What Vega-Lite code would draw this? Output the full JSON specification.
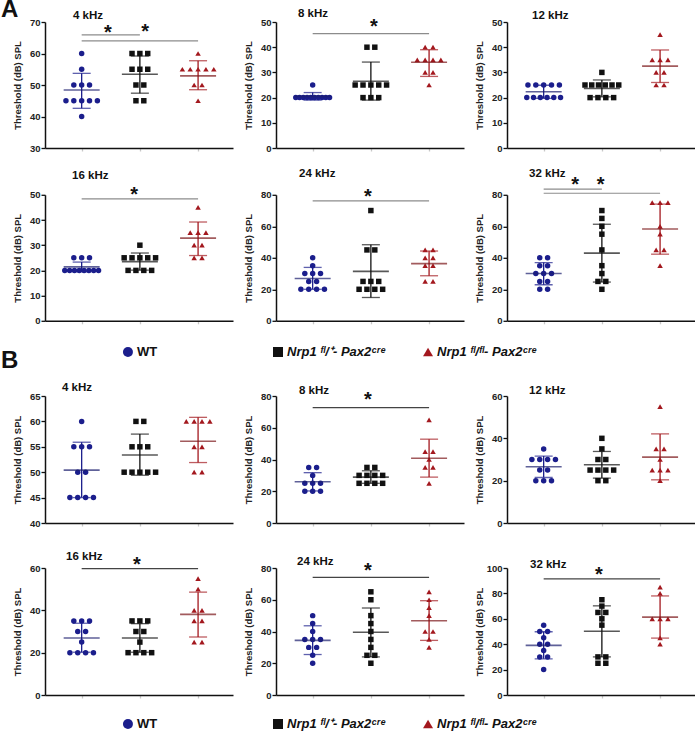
{
"$schema":"https://vega.github.io/schema/vega-lite/v6.json",
"background":"white",
"padding":{"left":1,"top":-2,"right":0,"bottom":0},
"config":{
 "font":"Liberation Sans",
 "view":{"stroke":null},
 "axis":{"grid":false,"domainColor":"#111","domainWidth":1.5,"tickColor":"#111","tickWidth":1.3,"labelFontWeight":"bold","labelFontSize":9.5,"labelColor":"#222","titleFontWeight":"bold","titleFontSize":9.5,"titleColor":"#222"},
 "axisY":{"minExtent":22,"maxExtent":22,"titlePadding":1,"tickSize":4,"labelPadding":1},
 "axisX":{"labels":false,"tickSize":3,"tickColor":"#c8c8c8","domainColor":"#111"},
 "title":{"fontSize":24,"fontWeight":"bold","color":"#111","anchor":"start","frame":"bounds","offset":0,"baseline":"alphabetic"}
},
"data":{"values":[
{"p":"A4","k":"t","lab":"4 kHz"},{"p":"A8","k":"t","lab":"8 kHz"},{"p":"A12","k":"t","lab":"12 kHz"},{"p":"A16","k":"t","lab":"16 kHz"},{"p":"A24","k":"t","lab":"24 kHz"},{"p":"A32","k":"t","lab":"32 kHz"},
{"p":"B4","k":"t","lab":"4 kHz"},{"p":"B8","k":"t","lab":"8 kHz"},{"p":"B12","k":"t","lab":"12 kHz"},{"p":"B16","k":"t","lab":"16 kHz"},{"p":"B24","k":"t","lab":"24 kHz"},{"p":"B32","k":"t","lab":"32 kHz"},
{"k":"lg","g":"WT","lab":"WT"},{"k":"lg","g":"Het","lab":"Nrp1 ᶠˡ/⁺- Pax2ᶜʳᵉ"},{"k":"lg","g":"KO","lab":"Nrp1 ᶠˡ/ᶠˡ- Pax2ᶜʳᵉ"},
{"p":"A4","k":"pt","g":"WT","y":60},{"p":"A4","k":"pt","g":"WT","y":55},{"p":"A4","k":"pt","g":"WT","y":50},{"p":"A4","k":"pt","g":"WT","y":50},{"p":"A4","k":"pt","g":"WT","y":50},{"p":"A4","k":"pt","g":"WT","y":45},{"p":"A4","k":"pt","g":"WT","y":45},{"p":"A4","k":"pt","g":"WT","y":45},{"p":"A4","k":"pt","g":"WT","y":45},{"p":"A4","k":"pt","g":"WT","y":45},{"p":"A4","k":"pt","g":"WT","y":40},
{"p":"A4","k":"pt","g":"Het","y":60},{"p":"A4","k":"pt","g":"Het","y":60},{"p":"A4","k":"pt","g":"Het","y":60},{"p":"A4","k":"pt","g":"Het","y":55},{"p":"A4","k":"pt","g":"Het","y":55},{"p":"A4","k":"pt","g":"Het","y":55},{"p":"A4","k":"pt","g":"Het","y":50},{"p":"A4","k":"pt","g":"Het","y":50},{"p":"A4","k":"pt","g":"Het","y":45},{"p":"A4","k":"pt","g":"Het","y":45},
{"p":"A4","k":"pt","g":"KO","y":60},{"p":"A4","k":"pt","g":"KO","y":55},{"p":"A4","k":"pt","g":"KO","y":55},{"p":"A4","k":"pt","g":"KO","y":55},{"p":"A4","k":"pt","g":"KO","y":55},{"p":"A4","k":"pt","g":"KO","y":55},{"p":"A4","k":"pt","g":"KO","y":50},{"p":"A4","k":"pt","g":"KO","y":50},{"p":"A4","k":"pt","g":"KO","y":45},
{"p":"A8","k":"pt","g":"WT","y":25},{"p":"A8","k":"pt","g":"WT","y":20},{"p":"A8","k":"pt","g":"WT","y":20},{"p":"A8","k":"pt","g":"WT","y":20},{"p":"A8","k":"pt","g":"WT","y":20},{"p":"A8","k":"pt","g":"WT","y":20},{"p":"A8","k":"pt","g":"WT","y":20},{"p":"A8","k":"pt","g":"WT","y":20},{"p":"A8","k":"pt","g":"WT","y":20},{"p":"A8","k":"pt","g":"WT","y":20},{"p":"A8","k":"pt","g":"WT","y":20},
{"p":"A8","k":"pt","g":"Het","y":40},{"p":"A8","k":"pt","g":"Het","y":40},{"p":"A8","k":"pt","g":"Het","y":25},{"p":"A8","k":"pt","g":"Het","y":25},{"p":"A8","k":"pt","g":"Het","y":25},{"p":"A8","k":"pt","g":"Het","y":25},{"p":"A8","k":"pt","g":"Het","y":25},{"p":"A8","k":"pt","g":"Het","y":20},{"p":"A8","k":"pt","g":"Het","y":20},{"p":"A8","k":"pt","g":"Het","y":20},
{"p":"A8","k":"pt","g":"KO","y":40},{"p":"A8","k":"pt","g":"KO","y":40},{"p":"A8","k":"pt","g":"KO","y":35},{"p":"A8","k":"pt","g":"KO","y":35},{"p":"A8","k":"pt","g":"KO","y":35},{"p":"A8","k":"pt","g":"KO","y":35},{"p":"A8","k":"pt","g":"KO","y":30},{"p":"A8","k":"pt","g":"KO","y":30},{"p":"A8","k":"pt","g":"KO","y":25},
{"p":"A12","k":"pt","g":"WT","y":25},{"p":"A12","k":"pt","g":"WT","y":25},{"p":"A12","k":"pt","g":"WT","y":25},{"p":"A12","k":"pt","g":"WT","y":25},{"p":"A12","k":"pt","g":"WT","y":25},{"p":"A12","k":"pt","g":"WT","y":20},{"p":"A12","k":"pt","g":"WT","y":20},{"p":"A12","k":"pt","g":"WT","y":20},{"p":"A12","k":"pt","g":"WT","y":20},{"p":"A12","k":"pt","g":"WT","y":20},{"p":"A12","k":"pt","g":"WT","y":20},
{"p":"A12","k":"pt","g":"Het","y":30},{"p":"A12","k":"pt","g":"Het","y":25},{"p":"A12","k":"pt","g":"Het","y":25},{"p":"A12","k":"pt","g":"Het","y":25},{"p":"A12","k":"pt","g":"Het","y":25},{"p":"A12","k":"pt","g":"Het","y":25},{"p":"A12","k":"pt","g":"Het","y":25},{"p":"A12","k":"pt","g":"Het","y":20},{"p":"A12","k":"pt","g":"Het","y":20},{"p":"A12","k":"pt","g":"Het","y":20},{"p":"A12","k":"pt","g":"Het","y":20},
{"p":"A12","k":"pt","g":"KO","y":45},{"p":"A12","k":"pt","g":"KO","y":35},{"p":"A12","k":"pt","g":"KO","y":35},{"p":"A12","k":"pt","g":"KO","y":35},{"p":"A12","k":"pt","g":"KO","y":30},{"p":"A12","k":"pt","g":"KO","y":30},{"p":"A12","k":"pt","g":"KO","y":25},{"p":"A12","k":"pt","g":"KO","y":25},
{"p":"A16","k":"pt","g":"WT","y":25},{"p":"A16","k":"pt","g":"WT","y":25},{"p":"A16","k":"pt","g":"WT","y":25},{"p":"A16","k":"pt","g":"WT","y":20},{"p":"A16","k":"pt","g":"WT","y":20},{"p":"A16","k":"pt","g":"WT","y":20},{"p":"A16","k":"pt","g":"WT","y":20},{"p":"A16","k":"pt","g":"WT","y":20},{"p":"A16","k":"pt","g":"WT","y":20},{"p":"A16","k":"pt","g":"WT","y":20},{"p":"A16","k":"pt","g":"WT","y":20},
{"p":"A16","k":"pt","g":"Het","y":30},{"p":"A16","k":"pt","g":"Het","y":25},{"p":"A16","k":"pt","g":"Het","y":25},{"p":"A16","k":"pt","g":"Het","y":25},{"p":"A16","k":"pt","g":"Het","y":25},{"p":"A16","k":"pt","g":"Het","y":25},{"p":"A16","k":"pt","g":"Het","y":20},{"p":"A16","k":"pt","g":"Het","y":20},{"p":"A16","k":"pt","g":"Het","y":20},{"p":"A16","k":"pt","g":"Het","y":20},
{"p":"A16","k":"pt","g":"KO","y":45},{"p":"A16","k":"pt","g":"KO","y":35},{"p":"A16","k":"pt","g":"KO","y":35},{"p":"A16","k":"pt","g":"KO","y":35},{"p":"A16","k":"pt","g":"KO","y":30},{"p":"A16","k":"pt","g":"KO","y":30},{"p":"A16","k":"pt","g":"KO","y":25},{"p":"A16","k":"pt","g":"KO","y":25},
{"p":"A24","k":"pt","g":"WT","y":40},{"p":"A24","k":"pt","g":"WT","y":35},{"p":"A24","k":"pt","g":"WT","y":30},{"p":"A24","k":"pt","g":"WT","y":30},{"p":"A24","k":"pt","g":"WT","y":30},{"p":"A24","k":"pt","g":"WT","y":25},{"p":"A24","k":"pt","g":"WT","y":25},{"p":"A24","k":"pt","g":"WT","y":20},{"p":"A24","k":"pt","g":"WT","y":20},{"p":"A24","k":"pt","g":"WT","y":20},{"p":"A24","k":"pt","g":"WT","y":20},
{"p":"A24","k":"pt","g":"Het","y":70},{"p":"A24","k":"pt","g":"Het","y":45},{"p":"A24","k":"pt","g":"Het","y":45},{"p":"A24","k":"pt","g":"Het","y":25},{"p":"A24","k":"pt","g":"Het","y":25},{"p":"A24","k":"pt","g":"Het","y":25},{"p":"A24","k":"pt","g":"Het","y":20},{"p":"A24","k":"pt","g":"Het","y":20},{"p":"A24","k":"pt","g":"Het","y":20},{"p":"A24","k":"pt","g":"Het","y":20},
{"p":"A24","k":"pt","g":"KO","y":45},{"p":"A24","k":"pt","g":"KO","y":45},{"p":"A24","k":"pt","g":"KO","y":40},{"p":"A24","k":"pt","g":"KO","y":40},{"p":"A24","k":"pt","g":"KO","y":35},{"p":"A24","k":"pt","g":"KO","y":35},{"p":"A24","k":"pt","g":"KO","y":25},{"p":"A24","k":"pt","g":"KO","y":25},
{"p":"A32","k":"pt","g":"WT","y":40},{"p":"A32","k":"pt","g":"WT","y":40},{"p":"A32","k":"pt","g":"WT","y":35},{"p":"A32","k":"pt","g":"WT","y":35},{"p":"A32","k":"pt","g":"WT","y":30},{"p":"A32","k":"pt","g":"WT","y":30},{"p":"A32","k":"pt","g":"WT","y":30},{"p":"A32","k":"pt","g":"WT","y":25},{"p":"A32","k":"pt","g":"WT","y":25},{"p":"A32","k":"pt","g":"WT","y":20},{"p":"A32","k":"pt","g":"WT","y":20},
{"p":"A32","k":"pt","g":"Het","y":70},{"p":"A32","k":"pt","g":"Het","y":65},{"p":"A32","k":"pt","g":"Het","y":60},{"p":"A32","k":"pt","g":"Het","y":55},{"p":"A32","k":"pt","g":"Het","y":45},{"p":"A32","k":"pt","g":"Het","y":35},{"p":"A32","k":"pt","g":"Het","y":30},{"p":"A32","k":"pt","g":"Het","y":25},{"p":"A32","k":"pt","g":"Het","y":25},{"p":"A32","k":"pt","g":"Het","y":20},
{"p":"A32","k":"pt","g":"KO","y":75},{"p":"A32","k":"pt","g":"KO","y":75},{"p":"A32","k":"pt","g":"KO","y":75},{"p":"A32","k":"pt","g":"KO","y":60},{"p":"A32","k":"pt","g":"KO","y":55},{"p":"A32","k":"pt","g":"KO","y":45},{"p":"A32","k":"pt","g":"KO","y":45},{"p":"A32","k":"pt","g":"KO","y":35},
{"p":"B4","k":"pt","g":"WT","y":60},{"p":"B4","k":"pt","g":"WT","y":55},{"p":"B4","k":"pt","g":"WT","y":55},{"p":"B4","k":"pt","g":"WT","y":55},{"p":"B4","k":"pt","g":"WT","y":50},{"p":"B4","k":"pt","g":"WT","y":50},{"p":"B4","k":"pt","g":"WT","y":45},{"p":"B4","k":"pt","g":"WT","y":45},{"p":"B4","k":"pt","g":"WT","y":45},{"p":"B4","k":"pt","g":"WT","y":45},
{"p":"B4","k":"pt","g":"Het","y":60},{"p":"B4","k":"pt","g":"Het","y":60},{"p":"B4","k":"pt","g":"Het","y":55},{"p":"B4","k":"pt","g":"Het","y":55},{"p":"B4","k":"pt","g":"Het","y":55},{"p":"B4","k":"pt","g":"Het","y":50},{"p":"B4","k":"pt","g":"Het","y":50},{"p":"B4","k":"pt","g":"Het","y":50},{"p":"B4","k":"pt","g":"Het","y":50},{"p":"B4","k":"pt","g":"Het","y":50},
{"p":"B4","k":"pt","g":"KO","y":60},{"p":"B4","k":"pt","g":"KO","y":60},{"p":"B4","k":"pt","g":"KO","y":60},{"p":"B4","k":"pt","g":"KO","y":60},{"p":"B4","k":"pt","g":"KO","y":55},{"p":"B4","k":"pt","g":"KO","y":55},{"p":"B4","k":"pt","g":"KO","y":50},{"p":"B4","k":"pt","g":"KO","y":50},
{"p":"B8","k":"pt","g":"WT","y":35},{"p":"B8","k":"pt","g":"WT","y":35},{"p":"B8","k":"pt","g":"WT","y":30},{"p":"B8","k":"pt","g":"WT","y":25},{"p":"B8","k":"pt","g":"WT","y":25},{"p":"B8","k":"pt","g":"WT","y":25},{"p":"B8","k":"pt","g":"WT","y":20},{"p":"B8","k":"pt","g":"WT","y":20},{"p":"B8","k":"pt","g":"WT","y":20},
{"p":"B8","k":"pt","g":"Het","y":35},{"p":"B8","k":"pt","g":"Het","y":35},{"p":"B8","k":"pt","g":"Het","y":30},{"p":"B8","k":"pt","g":"Het","y":30},{"p":"B8","k":"pt","g":"Het","y":30},{"p":"B8","k":"pt","g":"Het","y":30},{"p":"B8","k":"pt","g":"Het","y":25},{"p":"B8","k":"pt","g":"Het","y":25},{"p":"B8","k":"pt","g":"Het","y":25},{"p":"B8","k":"pt","g":"Het","y":25},
{"p":"B8","k":"pt","g":"KO","y":65},{"p":"B8","k":"pt","g":"KO","y":45},{"p":"B8","k":"pt","g":"KO","y":45},{"p":"B8","k":"pt","g":"KO","y":40},{"p":"B8","k":"pt","g":"KO","y":35},{"p":"B8","k":"pt","g":"KO","y":35},{"p":"B8","k":"pt","g":"KO","y":25},
{"p":"B12","k":"pt","g":"WT","y":35},{"p":"B12","k":"pt","g":"WT","y":30},{"p":"B12","k":"pt","g":"WT","y":30},{"p":"B12","k":"pt","g":"WT","y":30},{"p":"B12","k":"pt","g":"WT","y":30},{"p":"B12","k":"pt","g":"WT","y":25},{"p":"B12","k":"pt","g":"WT","y":25},{"p":"B12","k":"pt","g":"WT","y":20},{"p":"B12","k":"pt","g":"WT","y":20},{"p":"B12","k":"pt","g":"WT","y":20},
{"p":"B12","k":"pt","g":"Het","y":40},{"p":"B12","k":"pt","g":"Het","y":35},{"p":"B12","k":"pt","g":"Het","y":30},{"p":"B12","k":"pt","g":"Het","y":30},{"p":"B12","k":"pt","g":"Het","y":25},{"p":"B12","k":"pt","g":"Het","y":25},{"p":"B12","k":"pt","g":"Het","y":25},{"p":"B12","k":"pt","g":"Het","y":25},{"p":"B12","k":"pt","g":"Het","y":20},{"p":"B12","k":"pt","g":"Het","y":20},
{"p":"B12","k":"pt","g":"KO","y":55},{"p":"B12","k":"pt","g":"KO","y":35},{"p":"B12","k":"pt","g":"KO","y":35},{"p":"B12","k":"pt","g":"KO","y":30},{"p":"B12","k":"pt","g":"KO","y":25},{"p":"B12","k":"pt","g":"KO","y":25},{"p":"B12","k":"pt","g":"KO","y":25},{"p":"B12","k":"pt","g":"KO","y":20},
{"p":"B16","k":"pt","g":"WT","y":35},{"p":"B16","k":"pt","g":"WT","y":35},{"p":"B16","k":"pt","g":"WT","y":35},{"p":"B16","k":"pt","g":"WT","y":30},{"p":"B16","k":"pt","g":"WT","y":30},{"p":"B16","k":"pt","g":"WT","y":25},{"p":"B16","k":"pt","g":"WT","y":20},{"p":"B16","k":"pt","g":"WT","y":20},{"p":"B16","k":"pt","g":"WT","y":20},{"p":"B16","k":"pt","g":"WT","y":20},
{"p":"B16","k":"pt","g":"Het","y":35},{"p":"B16","k":"pt","g":"Het","y":35},{"p":"B16","k":"pt","g":"Het","y":35},{"p":"B16","k":"pt","g":"Het","y":30},{"p":"B16","k":"pt","g":"Het","y":30},{"p":"B16","k":"pt","g":"Het","y":25},{"p":"B16","k":"pt","g":"Het","y":20},{"p":"B16","k":"pt","g":"Het","y":20},{"p":"B16","k":"pt","g":"Het","y":20},{"p":"B16","k":"pt","g":"Het","y":20},
{"p":"B16","k":"pt","g":"KO","y":55},{"p":"B16","k":"pt","g":"KO","y":50},{"p":"B16","k":"pt","g":"KO","y":40},{"p":"B16","k":"pt","g":"KO","y":40},{"p":"B16","k":"pt","g":"KO","y":35},{"p":"B16","k":"pt","g":"KO","y":35},{"p":"B16","k":"pt","g":"KO","y":25},{"p":"B16","k":"pt","g":"KO","y":25},
{"p":"B24","k":"pt","g":"WT","y":50},{"p":"B24","k":"pt","g":"WT","y":45},{"p":"B24","k":"pt","g":"WT","y":40},{"p":"B24","k":"pt","g":"WT","y":35},{"p":"B24","k":"pt","g":"WT","y":35},{"p":"B24","k":"pt","g":"WT","y":35},{"p":"B24","k":"pt","g":"WT","y":30},{"p":"B24","k":"pt","g":"WT","y":30},{"p":"B24","k":"pt","g":"WT","y":25},{"p":"B24","k":"pt","g":"WT","y":20},
{"p":"B24","k":"pt","g":"Het","y":65},{"p":"B24","k":"pt","g":"Het","y":60},{"p":"B24","k":"pt","g":"Het","y":50},{"p":"B24","k":"pt","g":"Het","y":45},{"p":"B24","k":"pt","g":"Het","y":40},{"p":"B24","k":"pt","g":"Het","y":35},{"p":"B24","k":"pt","g":"Het","y":30},{"p":"B24","k":"pt","g":"Het","y":25},{"p":"B24","k":"pt","g":"Het","y":25},{"p":"B24","k":"pt","g":"Het","y":20},
{"p":"B24","k":"pt","g":"KO","y":65},{"p":"B24","k":"pt","g":"KO","y":60},{"p":"B24","k":"pt","g":"KO","y":55},{"p":"B24","k":"pt","g":"KO","y":50},{"p":"B24","k":"pt","g":"KO","y":40},{"p":"B24","k":"pt","g":"KO","y":40},{"p":"B24","k":"pt","g":"KO","y":35},{"p":"B24","k":"pt","g":"KO","y":30},
{"p":"B32","k":"pt","g":"WT","y":55},{"p":"B32","k":"pt","g":"WT","y":50},{"p":"B32","k":"pt","g":"WT","y":50},{"p":"B32","k":"pt","g":"WT","y":45},{"p":"B32","k":"pt","g":"WT","y":40},{"p":"B32","k":"pt","g":"WT","y":40},{"p":"B32","k":"pt","g":"WT","y":35},{"p":"B32","k":"pt","g":"WT","y":30},{"p":"B32","k":"pt","g":"WT","y":30},{"p":"B32","k":"pt","g":"WT","y":20},
{"p":"B32","k":"pt","g":"Het","y":75},{"p":"B32","k":"pt","g":"Het","y":70},{"p":"B32","k":"pt","g":"Het","y":65},{"p":"B32","k":"pt","g":"Het","y":65},{"p":"B32","k":"pt","g":"Het","y":60},{"p":"B32","k":"pt","g":"Het","y":55},{"p":"B32","k":"pt","g":"Het","y":30},{"p":"B32","k":"pt","g":"Het","y":30},{"p":"B32","k":"pt","g":"Het","y":25},{"p":"B32","k":"pt","g":"Het","y":25},
{"p":"B32","k":"pt","g":"KO","y":85},{"p":"B32","k":"pt","g":"KO","y":80},{"p":"B32","k":"pt","g":"KO","y":60},{"p":"B32","k":"pt","g":"KO","y":60},{"p":"B32","k":"pt","g":"KO","y":60},{"p":"B32","k":"pt","g":"KO","y":45},{"p":"B32","k":"pt","g":"KO","y":40},
{"p":"A4","k":"m","g":"WT","y":48.4,"lo":42.6,"hi":53.7},{"p":"A4","k":"m","g":"Het","y":53.4,"lo":47.4,"hi":59.2},{"p":"A4","k":"m","g":"KO","y":52.9,"lo":48.5,"hi":57.7},
{"p":"A8","k":"m","g":"WT","y":20.5,"lo":19,"hi":22},{"p":"A8","k":"m","g":"Het","y":26.5,"lo":19,"hi":34.1},{"p":"A8","k":"m","g":"KO","y":34,"lo":28.4,"hi":39},
{"p":"A12","k":"m","g":"WT","y":22.3,"lo":19.7,"hi":24.9},{"p":"A12","k":"m","g":"Het","y":23.6,"lo":20.3,"hi":27},{"p":"A12","k":"m","g":"KO","y":32.5,"lo":26,"hi":38.9},
{"p":"A16","k":"m","g":"WT","y":21.4,"lo":19.5,"hi":23.3},{"p":"A16","k":"m","g":"Het","y":23.5,"lo":20.1,"hi":26.9},{"p":"A16","k":"m","g":"KO","y":32.8,"lo":25.9,"hi":39.2},
{"p":"A24","k":"m","g":"WT","y":26.9,"lo":20,"hi":33.9},{"p":"A24","k":"m","g":"Het","y":31.4,"lo":14.8,"hi":48.3},{"p":"A24","k":"m","g":"KO","y":36.3,"lo":28.6,"hi":44.3},
{"p":"A32","k":"m","g":"WT","y":30,"lo":22.9,"hi":37},{"p":"A32","k":"m","g":"Het","y":43,"lo":24.6,"hi":61.3},{"p":"A32","k":"m","g":"KO","y":58.3,"lo":42.3,"hi":74.1},
{"p":"B4","k":"m","g":"WT","y":50.4,"lo":45,"hi":55.9},{"p":"B4","k":"m","g":"Het","y":53.4,"lo":49.4,"hi":57.5},{"p":"B4","k":"m","g":"KO","y":56.1,"lo":51.9,"hi":60.8},
{"p":"B8","k":"m","g":"WT","y":26,"lo":20.2,"hi":31.7},{"p":"B8","k":"m","g":"Het","y":28.9,"lo":25,"hi":32.9},{"p":"B8","k":"m","g":"KO","y":40.8,"lo":28.9,"hi":52.8},
{"p":"B12","k":"m","g":"WT","y":26.6,"lo":21.5,"hi":31.6},{"p":"B12","k":"m","g":"Het","y":27.5,"lo":21.2,"hi":33.8},{"p":"B12","k":"m","g":"KO","y":31.1,"lo":20.4,"hi":42.1},
{"p":"B16","k":"m","g":"WT","y":26.9,"lo":20.2,"hi":33.9},{"p":"B16","k":"m","g":"Het","y":26.9,"lo":20.2,"hi":33.7},{"p":"B16","k":"m","g":"KO","y":38.1,"lo":27.4,"hi":48.6},
{"p":"B24","k":"m","g":"WT","y":34.4,"lo":25.5,"hi":43.6},{"p":"B24","k":"m","g":"Het","y":39.5,"lo":24,"hi":54.8},{"p":"B24","k":"m","g":"KO","y":46.8,"lo":34.4,"hi":59.4},
{"p":"B32","k":"m","g":"WT","y":39.1,"lo":28.5,"hi":49.8},{"p":"B32","k":"m","g":"Het","y":50.2,"lo":30,"hi":70.2},{"p":"B32","k":"m","g":"KO","y":61.3,"lo":44.8,"hi":78},
{"p":"A4","k":"s","g":"WT","g2":"Het","y":65.9},{"p":"A4","k":"s","g":"WT","g2":"KO","y":64},
{"p":"A8","k":"s","g":"WT","g2":"KO","y":45.4},{"p":"A16","k":"s","g":"WT","g2":"KO","y":48.4},{"p":"A24","k":"s","g":"WT","g2":"KO","y":76.2},
{"p":"A32","k":"s","g":"WT","g2":"Het","y":83.6},{"p":"A32","k":"s","g":"WT","g2":"KO","y":81},
{"p":"B8","k":"s","g":"WT","g2":"KO","y":72.7},{"p":"B16","k":"s","g":"WT","g2":"KO","y":59.7},{"p":"B24","k":"s","g":"WT","g2":"KO","y":74.1},{"p":"B32","k":"s","g":"WT","g2":"KO","y":91.4},
{"p":"A4","k":"st","sx":1.45,"y":68},{"p":"A4","k":"st","sx":2.09,"y":68.5},{"p":"A8","k":"st","sx":2.05,"y":50},{"p":"A16","k":"st","sx":1.9,"y":52},{"p":"A24","k":"st","sx":1.95,"y":82},
{"p":"A32","k":"st","sx":1.54,"y":89.5},{"p":"A32","k":"st","sx":1.98,"y":89.5},
{"p":"B8","k":"st","sx":1.95,"y":80.6},{"p":"B16","k":"st","sx":1.95,"y":63.6},{"p":"B24","k":"st","sx":1.95,"y":81},{"p":"B32","k":"st","sx":1.95,"y":98.7}
]},
"transform":[
 {"window":[{"op":"row_number","as":"r"}],"groupby":["p","k","g","y"]},
 {"joinaggregate":[{"op":"count","as":"c"}],"groupby":["p","k","g","y"]},
 {"calculate":"datum.k=='st' ? datum.sx : indexof(['WT','Het','KO'], datum.g) + 1 + (datum.k=='pt' ? (datum.r - (datum.c + 1) / 2) * min(0.135, 0.58 / max(datum.c - 1, 1)) : 0)","as":"x"},
 {"calculate":"indexof(['WT','Het','KO'], datum.g2) + 1","as":"x2"}
],
"spacing":-11,
"vconcat":[
{"title":{"text":"A","dx":-11,"dy":18.2},
 "spacing":19,
 "vconcat":[
 {"spacing":14.8,"vconcat":[
 {"spacing":10,"hconcat":[
  {"width":188,"height":126,"transform":[{"filter":"datum.p=='A4'"}],
   "layer":[
   {"encoding":{"x":{"field":"x","type":"quantitative","scale":{"domain":[0.37,3.6],"nice":false,"zero":false},"axis":{"values":[1,2,3]},"title":null},
    "y":{"field":"y","type":"quantitative","scale":{"domain":[30,70],"nice":false,"zero":false},"axis":{"values":[30,40,50,60,70]},"title":"Threshold (dB) SPL"}},
   "layer":[
    {"transform":[{"filter":"datum.k=='s'"}],"mark":{"type":"rule","color":"#8c8c8c","strokeWidth":1.2},"encoding":{"x2":{"field":"x2"}}},
    {"transform":[{"filter":"datum.k=='st'"}],"mark":{"type":"text","text":"*","fontSize":20,"fontWeight":"bold","color":"#111","baseline":"middle","dy":5}},
    {"transform":[{"filter":"datum.k=='m'"}],"mark":{"type":"rule","strokeWidth":1.3},"encoding":{"y":{"field":"lo","type":"quantitative"},"y2":{"field":"hi"},"color":{"field":"g","type":"nominal","scale":{"domain":["WT","Het","KO"],"range":["#1b1e8c","#111111","#a3181e"]},"legend":null}}},
    {"transform":[{"filter":"datum.k=='m'"}],"mark":{"type":"tick","orient":"horizontal","size":18,"thickness":1.3},"encoding":{"y":{"field":"hi","type":"quantitative"},"color":{"field":"g","type":"nominal","scale":{"domain":["WT","Het","KO"],"range":["#1b1e8c","#111111","#a3181e"]},"legend":null}}},
    {"transform":[{"filter":"datum.k=='m'"}],"mark":{"type":"tick","orient":"horizontal","size":18,"thickness":1.3},"encoding":{"y":{"field":"lo","type":"quantitative"},"color":{"field":"g","type":"nominal","scale":{"domain":["WT","Het","KO"],"range":["#1b1e8c","#111111","#a3181e"]},"legend":null}}},
    {"transform":[{"filter":"datum.k=='pt'"}],"mark":{"type":"point","filled":true,"size":30,"opacity":1},"encoding":{"color":{"field":"g","type":"nominal","scale":{"domain":["WT","Het","KO"],"range":["#1b1e8c","#111111","#a3181e"]},"legend":null},"shape":{"field":"g","type":"nominal","scale":{"domain":["WT","Het","KO"],"range":["circle","square","triangle-up"]},"legend":null}}},
    {"transform":[{"filter":"datum.k=='m'"}],"mark":{"type":"tick","orient":"horizontal","size":36,"thickness":1.6},"encoding":{"fill":{"field":"g","type":"nominal","scale":{"domain":["WT","Het","KO"],"range":["#1b1e6e","#111111","#7a1518"]},"legend":null}}}
   ]},
   {"transform":[{"filter":"datum.k=='t'"}],"mark":{"type":"text","align":"left","baseline":"alphabetic","fontSize":11.5,"fontWeight":"bold","color":"#111"},"encoding":{"x":{"datum":0.851,"type":"quantitative","axis":{"values":[1,2,3]},"title":null},"y":{"datum":71,"type":"quantitative","axis":{"values":[30,40,50,60,70]},"title":"Threshold (dB) SPL"},"text":{"field":"lab"}}}
   ]},
  {"width":188,"height":126,"transform":[{"filter":"datum.p=='A8'"}],
   "layer":[
   {"encoding":{"x":{"field":"x","type":"quantitative","scale":{"domain":[0.37,3.6],"nice":false,"zero":false},"axis":{"values":[1,2,3]},"title":null},
    "y":{"field":"y","type":"quantitative","scale":{"domain":[0,50],"nice":false,"zero":false},"axis":{"values":[0,10,20,30,40,50]},"title":"Threshold (dB) SPL"}},
   "layer":[
    {"transform":[{"filter":"datum.k=='s'"}],"mark":{"type":"rule","color":"#8c8c8c","strokeWidth":1.2},"encoding":{"x2":{"field":"x2"}}},
    {"transform":[{"filter":"datum.k=='st'"}],"mark":{"type":"text","text":"*","fontSize":20,"fontWeight":"bold","color":"#111","baseline":"middle","dy":5}},
    {"transform":[{"filter":"datum.k=='m'"}],"mark":{"type":"rule","strokeWidth":1.3},"encoding":{"y":{"field":"lo","type":"quantitative"},"y2":{"field":"hi"},"color":{"field":"g","type":"nominal","scale":{"domain":["WT","Het","KO"],"range":["#1b1e8c","#111111","#a3181e"]},"legend":null}}},
    {"transform":[{"filter":"datum.k=='m'"}],"mark":{"type":"tick","orient":"horizontal","size":18,"thickness":1.3},"encoding":{"y":{"field":"hi","type":"quantitative"},"color":{"field":"g","type":"nominal","scale":{"domain":["WT","Het","KO"],"range":["#1b1e8c","#111111","#a3181e"]},"legend":null}}},
    {"transform":[{"filter":"datum.k=='m'"}],"mark":{"type":"tick","orient":"horizontal","size":18,"thickness":1.3},"encoding":{"y":{"field":"lo","type":"quantitative"},"color":{"field":"g","type":"nominal","scale":{"domain":["WT","Het","KO"],"range":["#1b1e8c","#111111","#a3181e"]},"legend":null}}},
    {"transform":[{"filter":"datum.k=='pt'"}],"mark":{"type":"point","filled":true,"size":30,"opacity":1},"encoding":{"color":{"field":"g","type":"nominal","scale":{"domain":["WT","Het","KO"],"range":["#1b1e8c","#111111","#a3181e"]},"legend":null},"shape":{"field":"g","type":"nominal","scale":{"domain":["WT","Het","KO"],"range":["circle","square","triangle-up"]},"legend":null}}},
    {"transform":[{"filter":"datum.k=='m'"}],"mark":{"type":"tick","orient":"horizontal","size":36,"thickness":1.6},"encoding":{"fill":{"field":"g","type":"nominal","scale":{"domain":["WT","Het","KO"],"range":["#1b1e6e","#111111","#7a1518"]},"legend":null}}}
   ]},
   {"transform":[{"filter":"datum.k=='t'"}],"mark":{"type":"text","align":"left","baseline":"alphabetic","fontSize":11.5,"fontWeight":"bold","color":"#111"},"encoding":{"x":{"datum":0.748,"type":"quantitative","axis":{"values":[1,2,3]},"title":null},"y":{"datum":51.9,"type":"quantitative","axis":{"values":[0,10,20,30,40,50]},"title":"Threshold (dB) SPL"},"text":{"field":"lab"}}}
   ]},
  {"width":188,"height":126,"transform":[{"filter":"datum.p=='A12'"}],
   "layer":[
   {"encoding":{"x":{"field":"x","type":"quantitative","scale":{"domain":[0.37,3.6],"nice":false,"zero":false},"axis":{"values":[1,2,3]},"title":null},
    "y":{"field":"y","type":"quantitative","scale":{"domain":[0,50],"nice":false,"zero":false},"axis":{"values":[0,10,20,30,40,50]},"title":"Threshold (dB) SPL"}},
   "layer":[
    {"transform":[{"filter":"datum.k=='m'"}],"mark":{"type":"rule","strokeWidth":1.3},"encoding":{"y":{"field":"lo","type":"quantitative"},"y2":{"field":"hi"},"color":{"field":"g","type":"nominal","scale":{"domain":["WT","Het","KO"],"range":["#1b1e8c","#111111","#a3181e"]},"legend":null}}},
    {"transform":[{"filter":"datum.k=='m'"}],"mark":{"type":"tick","orient":"horizontal","size":18,"thickness":1.3},"encoding":{"y":{"field":"hi","type":"quantitative"},"color":{"field":"g","type":"nominal","scale":{"domain":["WT","Het","KO"],"range":["#1b1e8c","#111111","#a3181e"]},"legend":null}}},
    {"transform":[{"filter":"datum.k=='m'"}],"mark":{"type":"tick","orient":"horizontal","size":18,"thickness":1.3},"encoding":{"y":{"field":"lo","type":"quantitative"},"color":{"field":"g","type":"nominal","scale":{"domain":["WT","Het","KO"],"range":["#1b1e8c","#111111","#a3181e"]},"legend":null}}},
    {"transform":[{"filter":"datum.k=='pt'"}],"mark":{"type":"point","filled":true,"size":30,"opacity":1},"encoding":{"color":{"field":"g","type":"nominal","scale":{"domain":["WT","Het","KO"],"range":["#1b1e8c","#111111","#a3181e"]},"legend":null},"shape":{"field":"g","type":"nominal","scale":{"domain":["WT","Het","KO"],"range":["circle","square","triangle-up"]},"legend":null}}},
    {"transform":[{"filter":"datum.k=='m'"}],"mark":{"type":"tick","orient":"horizontal","size":36,"thickness":1.6},"encoding":{"fill":{"field":"g","type":"nominal","scale":{"domain":["WT","Het","KO"],"range":["#1b1e6e","#111111","#7a1518"]},"legend":null}}}
   ]},
   {"transform":[{"filter":"datum.k=='t'"}],"mark":{"type":"text","align":"left","baseline":"alphabetic","fontSize":11.5,"fontWeight":"bold","color":"#111"},"encoding":{"x":{"datum":0.80,"type":"quantitative","axis":{"values":[1,2,3]},"title":null},"y":{"datum":51.3,"type":"quantitative","axis":{"values":[0,10,20,30,40,50]},"title":"Threshold (dB) SPL"},"text":{"field":"lab"}}}
   ]}
 ]},
 {"spacing":10,"hconcat":[
  {"width":188,"height":126,"transform":[{"filter":"datum.p=='A16'"}],
   "layer":[
   {"encoding":{"x":{"field":"x","type":"quantitative","scale":{"domain":[0.37,3.6],"nice":false,"zero":false},"axis":{"values":[1,2,3]},"title":null},
    "y":{"field":"y","type":"quantitative","scale":{"domain":[0,50],"nice":false,"zero":false},"axis":{"values":[0,10,20,30,40,50]},"title":"Threshold (dB) SPL"}},
   "layer":[
    {"transform":[{"filter":"datum.k=='s'"}],"mark":{"type":"rule","color":"#8c8c8c","strokeWidth":1.2},"encoding":{"x2":{"field":"x2"}}},
    {"transform":[{"filter":"datum.k=='st'"}],"mark":{"type":"text","text":"*","fontSize":20,"fontWeight":"bold","color":"#111","baseline":"middle","dy":5}},
    {"transform":[{"filter":"datum.k=='m'"}],"mark":{"type":"rule","strokeWidth":1.3},"encoding":{"y":{"field":"lo","type":"quantitative"},"y2":{"field":"hi"},"color":{"field":"g","type":"nominal","scale":{"domain":["WT","Het","KO"],"range":["#1b1e8c","#111111","#a3181e"]},"legend":null}}},
    {"transform":[{"filter":"datum.k=='m'"}],"mark":{"type":"tick","orient":"horizontal","size":18,"thickness":1.3},"encoding":{"y":{"field":"hi","type":"quantitative"},"color":{"field":"g","type":"nominal","scale":{"domain":["WT","Het","KO"],"range":["#1b1e8c","#111111","#a3181e"]},"legend":null}}},
    {"transform":[{"filter":"datum.k=='m'"}],"mark":{"type":"tick","orient":"horizontal","size":18,"thickness":1.3},"encoding":{"y":{"field":"lo","type":"quantitative"},"color":{"field":"g","type":"nominal","scale":{"domain":["WT","Het","KO"],"range":["#1b1e8c","#111111","#a3181e"]},"legend":null}}},
    {"transform":[{"filter":"datum.k=='pt'"}],"mark":{"type":"point","filled":true,"size":30,"opacity":1},"encoding":{"color":{"field":"g","type":"nominal","scale":{"domain":["WT","Het","KO"],"range":["#1b1e8c","#111111","#a3181e"]},"legend":null},"shape":{"field":"g","type":"nominal","scale":{"domain":["WT","Het","KO"],"range":["circle","square","triangle-up"]},"legend":null}}},
    {"transform":[{"filter":"datum.k=='m'"}],"mark":{"type":"tick","orient":"horizontal","size":36,"thickness":1.6},"encoding":{"fill":{"field":"g","type":"nominal","scale":{"domain":["WT","Het","KO"],"range":["#1b1e6e","#111111","#7a1518"]},"legend":null}}}
   ]},
   {"transform":[{"filter":"datum.k=='t'"}],"mark":{"type":"text","align":"left","baseline":"alphabetic","fontSize":11.5,"fontWeight":"bold","color":"#111"},"encoding":{"x":{"datum":0.834,"type":"quantitative","axis":{"values":[1,2,3]},"title":null},"y":{"datum":56.2,"type":"quantitative","axis":{"values":[0,10,20,30,40,50]},"title":"Threshold (dB) SPL"},"text":{"field":"lab"}}}
   ]},
  {"width":188,"height":126,"transform":[{"filter":"datum.p=='A24'"}],
   "layer":[
   {"encoding":{"x":{"field":"x","type":"quantitative","scale":{"domain":[0.37,3.6],"nice":false,"zero":false},"axis":{"values":[1,2,3]},"title":null},
    "y":{"field":"y","type":"quantitative","scale":{"domain":[0,80],"nice":false,"zero":false},"axis":{"values":[0,20,40,60,80]},"title":"Threshold (dB) SPL"}},
   "layer":[
    {"transform":[{"filter":"datum.k=='s'"}],"mark":{"type":"rule","color":"#8c8c8c","strokeWidth":1.2},"encoding":{"x2":{"field":"x2"}}},
    {"transform":[{"filter":"datum.k=='st'"}],"mark":{"type":"text","text":"*","fontSize":20,"fontWeight":"bold","color":"#111","baseline":"middle","dy":5}},
    {"transform":[{"filter":"datum.k=='m'"}],"mark":{"type":"rule","strokeWidth":1.3},"encoding":{"y":{"field":"lo","type":"quantitative"},"y2":{"field":"hi"},"color":{"field":"g","type":"nominal","scale":{"domain":["WT","Het","KO"],"range":["#1b1e8c","#111111","#a3181e"]},"legend":null}}},
    {"transform":[{"filter":"datum.k=='m'"}],"mark":{"type":"tick","orient":"horizontal","size":18,"thickness":1.3},"encoding":{"y":{"field":"hi","type":"quantitative"},"color":{"field":"g","type":"nominal","scale":{"domain":["WT","Het","KO"],"range":["#1b1e8c","#111111","#a3181e"]},"legend":null}}},
    {"transform":[{"filter":"datum.k=='m'"}],"mark":{"type":"tick","orient":"horizontal","size":18,"thickness":1.3},"encoding":{"y":{"field":"lo","type":"quantitative"},"color":{"field":"g","type":"nominal","scale":{"domain":["WT","Het","KO"],"range":["#1b1e8c","#111111","#a3181e"]},"legend":null}}},
    {"transform":[{"filter":"datum.k=='pt'"}],"mark":{"type":"point","filled":true,"size":30,"opacity":1},"encoding":{"color":{"field":"g","type":"nominal","scale":{"domain":["WT","Het","KO"],"range":["#1b1e8c","#111111","#a3181e"]},"legend":null},"shape":{"field":"g","type":"nominal","scale":{"domain":["WT","Het","KO"],"range":["circle","square","triangle-up"]},"legend":null}}},
    {"transform":[{"filter":"datum.k=='m'"}],"mark":{"type":"tick","orient":"horizontal","size":36,"thickness":1.6},"encoding":{"fill":{"field":"g","type":"nominal","scale":{"domain":["WT","Het","KO"],"range":["#1b1e6e","#111111","#7a1518"]},"legend":null}}}
   ]},
   {"transform":[{"filter":"datum.k=='t'"}],"mark":{"type":"text","align":"left","baseline":"alphabetic","fontSize":11.5,"fontWeight":"bold","color":"#111"},"encoding":{"x":{"datum":0.765,"type":"quantitative","axis":{"values":[1,2,3]},"title":null},"y":{"datum":91.1,"type":"quantitative","axis":{"values":[0,20,40,60,80]},"title":"Threshold (dB) SPL"},"text":{"field":"lab"}}}
   ]},
  {"width":188,"height":126,"transform":[{"filter":"datum.p=='A32'"}],
   "layer":[
   {"encoding":{"x":{"field":"x","type":"quantitative","scale":{"domain":[0.37,3.6],"nice":false,"zero":false},"axis":{"values":[1,2,3]},"title":null},
    "y":{"field":"y","type":"quantitative","scale":{"domain":[0,80],"nice":false,"zero":false},"axis":{"values":[0,20,40,60,80]},"title":"Threshold (dB) SPL"}},
   "layer":[
    {"transform":[{"filter":"datum.k=='s'"}],"mark":{"type":"rule","color":"#8c8c8c","strokeWidth":1.2},"encoding":{"x2":{"field":"x2"}}},
    {"transform":[{"filter":"datum.k=='st'"}],"mark":{"type":"text","text":"*","fontSize":20,"fontWeight":"bold","color":"#111","baseline":"middle","dy":5}},
    {"transform":[{"filter":"datum.k=='m'"}],"mark":{"type":"rule","strokeWidth":1.3},"encoding":{"y":{"field":"lo","type":"quantitative"},"y2":{"field":"hi"},"color":{"field":"g","type":"nominal","scale":{"domain":["WT","Het","KO"],"range":["#1b1e8c","#111111","#a3181e"]},"legend":null}}},
    {"transform":[{"filter":"datum.k=='m'"}],"mark":{"type":"tick","orient":"horizontal","size":18,"thickness":1.3},"encoding":{"y":{"field":"hi","type":"quantitative"},"color":{"field":"g","type":"nominal","scale":{"domain":["WT","Het","KO"],"range":["#1b1e8c","#111111","#a3181e"]},"legend":null}}},
    {"transform":[{"filter":"datum.k=='m'"}],"mark":{"type":"tick","orient":"horizontal","size":18,"thickness":1.3},"encoding":{"y":{"field":"lo","type":"quantitative"},"color":{"field":"g","type":"nominal","scale":{"domain":["WT","Het","KO"],"range":["#1b1e8c","#111111","#a3181e"]},"legend":null}}},
    {"transform":[{"filter":"datum.k=='pt'"}],"mark":{"type":"point","filled":true,"size":30,"opacity":1},"encoding":{"color":{"field":"g","type":"nominal","scale":{"domain":["WT","Het","KO"],"range":["#1b1e8c","#111111","#a3181e"]},"legend":null},"shape":{"field":"g","type":"nominal","scale":{"domain":["WT","Het","KO"],"range":["circle","square","triangle-up"]},"legend":null}}},
    {"transform":[{"filter":"datum.k=='m'"}],"mark":{"type":"tick","orient":"horizontal","size":36,"thickness":1.6},"encoding":{"fill":{"field":"g","type":"nominal","scale":{"domain":["WT","Het","KO"],"range":["#1b1e6e","#111111","#7a1518"]},"legend":null}}}
   ]},
   {"transform":[{"filter":"datum.k=='t'"}],"mark":{"type":"text","align":"left","baseline":"alphabetic","fontSize":11.5,"fontWeight":"bold","color":"#111"},"encoding":{"x":{"datum":0.748,"type":"quantitative","axis":{"values":[1,2,3]},"title":null},"y":{"datum":91.1,"type":"quantitative","axis":{"values":[0,20,40,60,80]},"title":"Threshold (dB) SPL"},"text":{"field":"lab"}}}
   ]}
 ]}
 ]},
 {"width":466,"height":14,"transform":[{"filter":"datum.k=='lg'"}],
  "encoding":{"x":{"field":"g","type":"nominal","scale":{"type":"point","domain":["WT","Het","KO"],"padding":0.553},"axis":null}},
  "layer":[
   {"mark":{"type":"point","filled":true,"size":100,"opacity":1},"encoding":{"color":{"field":"g","type":"nominal","scale":{"domain":["WT","Het","KO"],"range":["#1b1e8c","#111111","#a3181e"]},"legend":null},"shape":{"field":"g","type":"nominal","scale":{"domain":["WT","Het","KO"],"range":["circle","square","triangle-up"]},"legend":null}}},
   {"transform":[{"filter":"datum.g=='WT'"}],"mark":{"type":"text","align":"left","dx":9,"fontSize":13,"fontWeight":"bold","color":"#111"},"encoding":{"text":{"field":"lab"}}},
   {"transform":[{"filter":"datum.g!='WT'"}],"mark":{"type":"text","align":"left","dx":9,"fontSize":13,"fontWeight":"bold","fontStyle":"italic","color":"#111"},"encoding":{"text":{"field":"lab"}}}
  ]}
]},
{"title":{"text":"B","dx":-11,"dy":-5.9},
 "spacing":17,
 "vconcat":[
 {"spacing":22,"vconcat":[
 {"spacing":10,"hconcat":[
  {"width":188,"height":127,"transform":[{"filter":"datum.p=='B4'"}],
   "layer":[
   {"encoding":{"x":{"field":"x","type":"quantitative","scale":{"domain":[0.37,3.6],"nice":false,"zero":false},"axis":{"values":[1,2,3]},"title":null},
    "y":{"field":"y","type":"quantitative","scale":{"domain":[40,65],"nice":false,"zero":false},"axis":{"values":[40,45,50,55,60,65]},"title":"Threshold (dB) SPL"}},
   "layer":[
    {"transform":[{"filter":"datum.k=='m'"}],"mark":{"type":"rule","strokeWidth":1.3},"encoding":{"y":{"field":"lo","type":"quantitative"},"y2":{"field":"hi"},"color":{"field":"g","type":"nominal","scale":{"domain":["WT","Het","KO"],"range":["#1b1e8c","#111111","#a3181e"]},"legend":null}}},
    {"transform":[{"filter":"datum.k=='m'"}],"mark":{"type":"tick","orient":"horizontal","size":18,"thickness":1.3},"encoding":{"y":{"field":"hi","type":"quantitative"},"color":{"field":"g","type":"nominal","scale":{"domain":["WT","Het","KO"],"range":["#1b1e8c","#111111","#a3181e"]},"legend":null}}},
    {"transform":[{"filter":"datum.k=='m'"}],"mark":{"type":"tick","orient":"horizontal","size":18,"thickness":1.3},"encoding":{"y":{"field":"lo","type":"quantitative"},"color":{"field":"g","type":"nominal","scale":{"domain":["WT","Het","KO"],"range":["#1b1e8c","#111111","#a3181e"]},"legend":null}}},
    {"transform":[{"filter":"datum.k=='pt'"}],"mark":{"type":"point","filled":true,"size":30,"opacity":1},"encoding":{"color":{"field":"g","type":"nominal","scale":{"domain":["WT","Het","KO"],"range":["#1b1e8c","#111111","#a3181e"]},"legend":null},"shape":{"field":"g","type":"nominal","scale":{"domain":["WT","Het","KO"],"range":["circle","square","triangle-up"]},"legend":null}}},
    {"transform":[{"filter":"datum.k=='m'"}],"mark":{"type":"tick","orient":"horizontal","size":36,"thickness":1.6},"encoding":{"fill":{"field":"g","type":"nominal","scale":{"domain":["WT","Het","KO"],"range":["#1b1e6e","#111111","#7a1518"]},"legend":null}}}
   ]},
   {"transform":[{"filter":"datum.k=='t'"}],"mark":{"type":"text","align":"left","baseline":"alphabetic","fontSize":11.5,"fontWeight":"bold","color":"#111"},"encoding":{"x":{"datum":0.662,"type":"quantitative","axis":{"values":[1,2,3]},"title":null},"y":{"datum":65.9,"type":"quantitative","axis":{"values":[40,45,50,55,60,65]},"title":"Threshold (dB) SPL"},"text":{"field":"lab"}}}
   ]},
  {"width":188,"height":127,"transform":[{"filter":"datum.p=='B8'"}],
   "layer":[
   {"encoding":{"x":{"field":"x","type":"quantitative","scale":{"domain":[0.37,3.6],"nice":false,"zero":false},"axis":{"values":[1,2,3]},"title":null},
    "y":{"field":"y","type":"quantitative","scale":{"domain":[0,80],"nice":false,"zero":false},"axis":{"values":[0,20,40,60,80]},"title":"Threshold (dB) SPL"}},
   "layer":[
    {"transform":[{"filter":"datum.k=='s'"}],"mark":{"type":"rule","color":"#444","strokeWidth":1.2},"encoding":{"x2":{"field":"x2"}}},
    {"transform":[{"filter":"datum.k=='st'"}],"mark":{"type":"text","text":"*","fontSize":20,"fontWeight":"bold","color":"#111","baseline":"middle","dy":5}},
    {"transform":[{"filter":"datum.k=='m'"}],"mark":{"type":"rule","strokeWidth":1.3},"encoding":{"y":{"field":"lo","type":"quantitative"},"y2":{"field":"hi"},"color":{"field":"g","type":"nominal","scale":{"domain":["WT","Het","KO"],"range":["#1b1e8c","#111111","#a3181e"]},"legend":null}}},
    {"transform":[{"filter":"datum.k=='m'"}],"mark":{"type":"tick","orient":"horizontal","size":18,"thickness":1.3},"encoding":{"y":{"field":"hi","type":"quantitative"},"color":{"field":"g","type":"nominal","scale":{"domain":["WT","Het","KO"],"range":["#1b1e8c","#111111","#a3181e"]},"legend":null}}},
    {"transform":[{"filter":"datum.k=='m'"}],"mark":{"type":"tick","orient":"horizontal","size":18,"thickness":1.3},"encoding":{"y":{"field":"lo","type":"quantitative"},"color":{"field":"g","type":"nominal","scale":{"domain":["WT","Het","KO"],"range":["#1b1e8c","#111111","#a3181e"]},"legend":null}}},
    {"transform":[{"filter":"datum.k=='pt'"}],"mark":{"type":"point","filled":true,"size":30,"opacity":1},"encoding":{"color":{"field":"g","type":"nominal","scale":{"domain":["WT","Het","KO"],"range":["#1b1e8c","#111111","#a3181e"]},"legend":null},"shape":{"field":"g","type":"nominal","scale":{"domain":["WT","Het","KO"],"range":["circle","square","triangle-up"]},"legend":null}}},
    {"transform":[{"filter":"datum.k=='m'"}],"mark":{"type":"tick","orient":"horizontal","size":36,"thickness":1.6},"encoding":{"fill":{"field":"g","type":"nominal","scale":{"domain":["WT","Het","KO"],"range":["#1b1e6e","#111111","#7a1518"]},"legend":null}}}
   ]},
   {"transform":[{"filter":"datum.k=='t'"}],"mark":{"type":"text","align":"left","baseline":"alphabetic","fontSize":11.5,"fontWeight":"bold","color":"#111"},"encoding":{"x":{"datum":0.765,"type":"quantitative","axis":{"values":[1,2,3]},"title":null},"y":{"datum":81.3,"type":"quantitative","axis":{"values":[0,20,40,60,80]},"title":"Threshold (dB) SPL"},"text":{"field":"lab"}}}
   ]},
  {"width":188,"height":127,"transform":[{"filter":"datum.p=='B12'"}],
   "layer":[
   {"encoding":{"x":{"field":"x","type":"quantitative","scale":{"domain":[0.37,3.6],"nice":false,"zero":false},"axis":{"values":[1,2,3]},"title":null},
    "y":{"field":"y","type":"quantitative","scale":{"domain":[0,60],"nice":false,"zero":false},"axis":{"values":[0,20,40,60]},"title":"Threshold (dB) SPL"}},
   "layer":[
    {"transform":[{"filter":"datum.k=='m'"}],"mark":{"type":"rule","strokeWidth":1.3},"encoding":{"y":{"field":"lo","type":"quantitative"},"y2":{"field":"hi"},"color":{"field":"g","type":"nominal","scale":{"domain":["WT","Het","KO"],"range":["#1b1e8c","#111111","#a3181e"]},"legend":null}}},
    {"transform":[{"filter":"datum.k=='m'"}],"mark":{"type":"tick","orient":"horizontal","size":18,"thickness":1.3},"encoding":{"y":{"field":"hi","type":"quantitative"},"color":{"field":"g","type":"nominal","scale":{"domain":["WT","Het","KO"],"range":["#1b1e8c","#111111","#a3181e"]},"legend":null}}},
    {"transform":[{"filter":"datum.k=='m'"}],"mark":{"type":"tick","orient":"horizontal","size":18,"thickness":1.3},"encoding":{"y":{"field":"lo","type":"quantitative"},"color":{"field":"g","type":"nominal","scale":{"domain":["WT","Het","KO"],"range":["#1b1e8c","#111111","#a3181e"]},"legend":null}}},
    {"transform":[{"filter":"datum.k=='pt'"}],"mark":{"type":"point","filled":true,"size":30,"opacity":1},"encoding":{"color":{"field":"g","type":"nominal","scale":{"domain":["WT","Het","KO"],"range":["#1b1e8c","#111111","#a3181e"]},"legend":null},"shape":{"field":"g","type":"nominal","scale":{"domain":["WT","Het","KO"],"range":["circle","square","triangle-up"]},"legend":null}}},
    {"transform":[{"filter":"datum.k=='m'"}],"mark":{"type":"tick","orient":"horizontal","size":36,"thickness":1.6},"encoding":{"fill":{"field":"g","type":"nominal","scale":{"domain":["WT","Het","KO"],"range":["#1b1e6e","#111111","#7a1518"]},"legend":null}}}
   ]},
   {"transform":[{"filter":"datum.k=='t'"}],"mark":{"type":"text","align":"left","baseline":"alphabetic","fontSize":11.5,"fontWeight":"bold","color":"#111"},"encoding":{"x":{"datum":0.748,"type":"quantitative","axis":{"values":[1,2,3]},"title":null},"y":{"datum":60.9,"type":"quantitative","axis":{"values":[0,20,40,60]},"title":"Threshold (dB) SPL"},"text":{"field":"lab"}}}
   ]}
 ]},
 {"spacing":10,"hconcat":[
  {"width":188,"height":127,"transform":[{"filter":"datum.p=='B16'"}],
   "layer":[
   {"encoding":{"x":{"field":"x","type":"quantitative","scale":{"domain":[0.37,3.6],"nice":false,"zero":false},"axis":{"values":[1,2,3]},"title":null},
    "y":{"field":"y","type":"quantitative","scale":{"domain":[0,60],"nice":false,"zero":false},"axis":{"values":[0,20,40,60]},"title":"Threshold (dB) SPL"}},
   "layer":[
    {"transform":[{"filter":"datum.k=='s'"}],"mark":{"type":"rule","color":"#444","strokeWidth":1.2},"encoding":{"x2":{"field":"x2"}}},
    {"transform":[{"filter":"datum.k=='st'"}],"mark":{"type":"text","text":"*","fontSize":20,"fontWeight":"bold","color":"#111","baseline":"middle","dy":5}},
    {"transform":[{"filter":"datum.k=='m'"}],"mark":{"type":"rule","strokeWidth":1.3},"encoding":{"y":{"field":"lo","type":"quantitative"},"y2":{"field":"hi"},"color":{"field":"g","type":"nominal","scale":{"domain":["WT","Het","KO"],"range":["#1b1e8c","#111111","#a3181e"]},"legend":null}}},
    {"transform":[{"filter":"datum.k=='m'"}],"mark":{"type":"tick","orient":"horizontal","size":18,"thickness":1.3},"encoding":{"y":{"field":"hi","type":"quantitative"},"color":{"field":"g","type":"nominal","scale":{"domain":["WT","Het","KO"],"range":["#1b1e8c","#111111","#a3181e"]},"legend":null}}},
    {"transform":[{"filter":"datum.k=='m'"}],"mark":{"type":"tick","orient":"horizontal","size":18,"thickness":1.3},"encoding":{"y":{"field":"lo","type":"quantitative"},"color":{"field":"g","type":"nominal","scale":{"domain":["WT","Het","KO"],"range":["#1b1e8c","#111111","#a3181e"]},"legend":null}}},
    {"transform":[{"filter":"datum.k=='pt'"}],"mark":{"type":"point","filled":true,"size":30,"opacity":1},"encoding":{"color":{"field":"g","type":"nominal","scale":{"domain":["WT","Het","KO"],"range":["#1b1e8c","#111111","#a3181e"]},"legend":null},"shape":{"field":"g","type":"nominal","scale":{"domain":["WT","Het","KO"],"range":["circle","square","triangle-up"]},"legend":null}}},
    {"transform":[{"filter":"datum.k=='m'"}],"mark":{"type":"tick","orient":"horizontal","size":36,"thickness":1.6},"encoding":{"fill":{"field":"g","type":"nominal","scale":{"domain":["WT","Het","KO"],"range":["#1b1e6e","#111111","#7a1518"]},"legend":null}}}
   ]},
   {"transform":[{"filter":"datum.k=='t'"}],"mark":{"type":"text","align":"left","baseline":"alphabetic","fontSize":11.5,"fontWeight":"bold","color":"#111"},"encoding":{"x":{"datum":0.731,"type":"quantitative","axis":{"values":[1,2,3]},"title":null},"y":{"datum":63.8,"type":"quantitative","axis":{"values":[0,20,40,60]},"title":"Threshold (dB) SPL"},"text":{"field":"lab"}}}
   ]},
  {"width":188,"height":127,"transform":[{"filter":"datum.p=='B24'"}],
   "layer":[
   {"encoding":{"x":{"field":"x","type":"quantitative","scale":{"domain":[0.37,3.6],"nice":false,"zero":false},"axis":{"values":[1,2,3]},"title":null},
    "y":{"field":"y","type":"quantitative","scale":{"domain":[0,80],"nice":false,"zero":false},"axis":{"values":[0,20,40,60,80]},"title":"Threshold (dB) SPL"}},
   "layer":[
    {"transform":[{"filter":"datum.k=='s'"}],"mark":{"type":"rule","color":"#444","strokeWidth":1.2},"encoding":{"x2":{"field":"x2"}}},
    {"transform":[{"filter":"datum.k=='st'"}],"mark":{"type":"text","text":"*","fontSize":20,"fontWeight":"bold","color":"#111","baseline":"middle","dy":5}},
    {"transform":[{"filter":"datum.k=='m'"}],"mark":{"type":"rule","strokeWidth":1.3},"encoding":{"y":{"field":"lo","type":"quantitative"},"y2":{"field":"hi"},"color":{"field":"g","type":"nominal","scale":{"domain":["WT","Het","KO"],"range":["#1b1e8c","#111111","#a3181e"]},"legend":null}}},
    {"transform":[{"filter":"datum.k=='m'"}],"mark":{"type":"tick","orient":"horizontal","size":18,"thickness":1.3},"encoding":{"y":{"field":"hi","type":"quantitative"},"color":{"field":"g","type":"nominal","scale":{"domain":["WT","Het","KO"],"range":["#1b1e8c","#111111","#a3181e"]},"legend":null}}},
    {"transform":[{"filter":"datum.k=='m'"}],"mark":{"type":"tick","orient":"horizontal","size":18,"thickness":1.3},"encoding":{"y":{"field":"lo","type":"quantitative"},"color":{"field":"g","type":"nominal","scale":{"domain":["WT","Het","KO"],"range":["#1b1e8c","#111111","#a3181e"]},"legend":null}}},
    {"transform":[{"filter":"datum.k=='pt'"}],"mark":{"type":"point","filled":true,"size":30,"opacity":1},"encoding":{"color":{"field":"g","type":"nominal","scale":{"domain":["WT","Het","KO"],"range":["#1b1e8c","#111111","#a3181e"]},"legend":null},"shape":{"field":"g","type":"nominal","scale":{"domain":["WT","Het","KO"],"range":["circle","square","triangle-up"]},"legend":null}}},
    {"transform":[{"filter":"datum.k=='m'"}],"mark":{"type":"tick","orient":"horizontal","size":36,"thickness":1.6},"encoding":{"fill":{"field":"g","type":"nominal","scale":{"domain":["WT","Het","KO"],"range":["#1b1e6e","#111111","#7a1518"]},"legend":null}}}
   ]},
   {"transform":[{"filter":"datum.k=='t'"}],"mark":{"type":"text","align":"left","baseline":"alphabetic","fontSize":11.5,"fontWeight":"bold","color":"#111"},"encoding":{"x":{"datum":0.731,"type":"quantitative","axis":{"values":[1,2,3]},"title":null},"y":{"datum":81.9,"type":"quantitative","axis":{"values":[0,20,40,60,80]},"title":"Threshold (dB) SPL"},"text":{"field":"lab"}}}
   ]},
  {"width":188,"height":127,"transform":[{"filter":"datum.p=='B32'"}],
   "layer":[
   {"encoding":{"x":{"field":"x","type":"quantitative","scale":{"domain":[0.37,3.6],"nice":false,"zero":false},"axis":{"values":[1,2,3]},"title":null},
    "y":{"field":"y","type":"quantitative","scale":{"domain":[0,100],"nice":false,"zero":false},"axis":{"values":[0,20,40,60,80,100]},"title":"Threshold (dB) SPL"}},
   "layer":[
    {"transform":[{"filter":"datum.k=='s'"}],"mark":{"type":"rule","color":"#444","strokeWidth":1.2},"encoding":{"x2":{"field":"x2"}}},
    {"transform":[{"filter":"datum.k=='st'"}],"mark":{"type":"text","text":"*","fontSize":20,"fontWeight":"bold","color":"#111","baseline":"middle","dy":5}},
    {"transform":[{"filter":"datum.k=='m'"}],"mark":{"type":"rule","strokeWidth":1.3},"encoding":{"y":{"field":"lo","type":"quantitative"},"y2":{"field":"hi"},"color":{"field":"g","type":"nominal","scale":{"domain":["WT","Het","KO"],"range":["#1b1e8c","#111111","#a3181e"]},"legend":null}}},
    {"transform":[{"filter":"datum.k=='m'"}],"mark":{"type":"tick","orient":"horizontal","size":18,"thickness":1.3},"encoding":{"y":{"field":"hi","type":"quantitative"},"color":{"field":"g","type":"nominal","scale":{"domain":["WT","Het","KO"],"range":["#1b1e8c","#111111","#a3181e"]},"legend":null}}},
    {"transform":[{"filter":"datum.k=='m'"}],"mark":{"type":"tick","orient":"horizontal","size":18,"thickness":1.3},"encoding":{"y":{"field":"lo","type":"quantitative"},"color":{"field":"g","type":"nominal","scale":{"domain":["WT","Het","KO"],"range":["#1b1e8c","#111111","#a3181e"]},"legend":null}}},
    {"transform":[{"filter":"datum.k=='pt'"}],"mark":{"type":"point","filled":true,"size":30,"opacity":1},"encoding":{"color":{"field":"g","type":"nominal","scale":{"domain":["WT","Het","KO"],"range":["#1b1e8c","#111111","#a3181e"]},"legend":null},"shape":{"field":"g","type":"nominal","scale":{"domain":["WT","Het","KO"],"range":["circle","square","triangle-up"]},"legend":null}}},
    {"transform":[{"filter":"datum.k=='m'"}],"mark":{"type":"tick","orient":"horizontal","size":36,"thickness":1.6},"encoding":{"fill":{"field":"g","type":"nominal","scale":{"domain":["WT","Het","KO"],"range":["#1b1e6e","#111111","#7a1518"]},"legend":null}}}
   ]},
   {"transform":[{"filter":"datum.k=='t'"}],"mark":{"type":"text","align":"left","baseline":"alphabetic","fontSize":11.5,"fontWeight":"bold","color":"#111"},"encoding":{"x":{"datum":0.765,"type":"quantitative","axis":{"values":[1,2,3]},"title":null},"y":{"datum":100,"type":"quantitative","axis":{"values":[0,20,40,60,80,100]},"title":"Threshold (dB) SPL"},"text":{"field":"lab"}}}
   ]}
 ]}
 ]},
 {"width":466,"height":14,"transform":[{"filter":"datum.k=='lg'"}],
  "encoding":{"x":{"field":"g","type":"nominal","scale":{"type":"point","domain":["WT","Het","KO"],"padding":0.553},"axis":null}},
  "layer":[
   {"mark":{"type":"point","filled":true,"size":100,"opacity":1},"encoding":{"color":{"field":"g","type":"nominal","scale":{"domain":["WT","Het","KO"],"range":["#1b1e8c","#111111","#a3181e"]},"legend":null},"shape":{"field":"g","type":"nominal","scale":{"domain":["WT","Het","KO"],"range":["circle","square","triangle-up"]},"legend":null}}},
   {"transform":[{"filter":"datum.g=='WT'"}],"mark":{"type":"text","align":"left","dx":9,"fontSize":13,"fontWeight":"bold","color":"#111"},"encoding":{"text":{"field":"lab"}}},
   {"transform":[{"filter":"datum.g!='WT'"}],"mark":{"type":"text","align":"left","dx":9,"fontSize":13,"fontWeight":"bold","fontStyle":"italic","color":"#111"},"encoding":{"text":{"field":"lab"}}}
  ]}
]}
]
}
